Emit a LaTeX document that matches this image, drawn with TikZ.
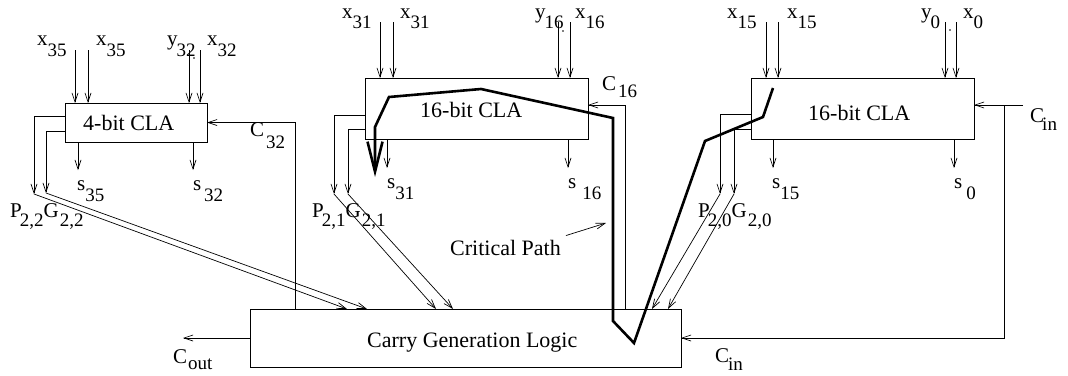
\documentclass[tikz,border=0pt]{standalone}
\usepackage{fontspec}
\setmainfont{Liberation Serif}
\usetikzlibrary{arrows.meta}
\newcommand\sbx[4]{#1\kern#2pt\raisebox{-#3pt}{\fontsize{19}{19}\selectfont #4}}
\tikzset{
  box/.style={draw, line width=0.8pt, inner sep=0pt, outer sep=0pt},
  lab/.style={inner sep=0pt, anchor=base west, font=\fontsize{21}{21}\selectfont},
  big/.style={inner sep=0pt, anchor=base west, font=\fontsize{22}{22}\selectfont},
  wire/.style={line width=0.7pt},
  arr/.style={wire, -{Straight Barb[length=9pt,width=6pt]}},
  crit/.style={line width=2.6pt, line join=miter, -{Straight Barb[length=30pt,width=15pt]}}
}
\begin{document}
\begin{tikzpicture}[x=1pt,y=-1pt]
\useasboundingbox (0,0) rectangle (1068,375);
% boxes
\node[box, minimum width=142pt, minimum height=39pt] (cla4) at (136,122.5) {};
\node[box, minimum width=223pt, minimum height=61pt] (claA) at (476.5,108.5) {};
\node[box, minimum width=223pt, minimum height=61pt] (claB) at (862.5,108.5) {};
\node[box, minimum width=431pt, minimum height=58pt] (cgl) at (465.5,338) {};
\node[big] (t4) at (83,130) {4-bit CLA};
\node[big] (tA) at (420,117) {16-bit CLA};
\node[big] (tB) at (808,120) {16-bit CLA};
\node[big] (tC) at (367,347) {Carry Generation Logic};
% inputs
\foreach \x [count=\i] in {75,88,189,200} {\coordinate (ia\i) at (\x,50); \draw[arr] (ia\i) -- (ia\i |- cla4.north);}
\foreach \x [count=\i] in {380,393,558,570} {\coordinate (ib\i) at (\x,22); \draw[arr] (ib\i) -- (ib\i |- claA.north);}
\foreach \x [count=\i] in {766,778,945,956} {\coordinate (ic\i) at (\x,22); \draw[arr] (ic\i) -- (ic\i |- claB.north);}
% outputs
\foreach \x [count=\i] in {78,193} {\coordinate (oa\i) at (\x,170); \draw[arr] (oa\i |- cla4.south) -- (oa\i);}
\foreach \x [count=\i] in {387,568} {\coordinate (ob\i) at (\x,168); \draw[arr] (ob\i |- claA.south) -- (ob\i);}
\foreach \x [count=\i] in {773,954} {\coordinate (oc\i) at (\x,168); \draw[arr] (oc\i |- claB.south) -- (oc\i);}
% P/G signals
\coordinate (p22) at (34,194); \coordinate (g22) at (46,193);
\draw[arr] (cla4.west |- 0,116) -| (p22);
\draw[arr] (cla4.west |- 0,131) -| (g22);
\draw[arr] (p22) -- (347,0 |- cgl.north);
\draw[arr] (g22) -- (367,0 |- cgl.north);
\coordinate (p21) at (334,194); \coordinate (g21) at (348,194);
\draw[arr] (claA.west |- 0,115) -| (p21);
\draw[arr] (claA.west |- 0,129) -| (g21);
\draw[arr] (p21) -- (436,0 |- cgl.north);
\draw[arr] (g21) -- (453,0 |- cgl.north);
\coordinate (p20) at (720,194); \coordinate (g20) at (734,194);
\draw[arr] (claB.west |- 0,114) -| (p20);
\draw[arr] (claB.west |- 0,129) -| (g20);
\draw[arr] (p20) -- (652,0 |- cgl.north);
\draw[arr] (g20) -- (668,0 |- cgl.north);
% carries
\draw[arr] (295,0 |- cgl.north) |- (cla4.east);
\draw[arr] (625,0 |- cgl.north) |- (claA.east |- 0,105);
\coordinate (cin) at (1023,105);
\draw[arr] (cin) -- (claB.east |- cin);
\coordinate (cinb) at (1004,105);
\draw[arr] (cinb) |- (cgl.east);
\coordinate (cout) at (183,338);
\draw[arr] (cgl.west) -- (cout);
% critical path
\draw[crit] (773,88) -- (763,117) -- (705,141) -- (634,343) -- (613,321) -- (613,118) -- (481,89) -- (389,97) -- (375,127) -- (375,177);
\node[big] (cp) at (450,255) {Critical Path};
\coordinate (cpt) at (606,223);
\draw[arr] ([shift={(5,-4)}]cp.north east) -- (cpt);
% stray dots
\fill (194,58) circle (0.8); \fill (563,31) circle (0.8); \fill (950,30) circle (0.8);
% top labels
\node[lab] (l1) at (37,45) {\sbx{x}{0}{11}{35}};
\node[lab] (l2) at (96,45) {\sbx{x}{0}{11}{35}};
\node[lab] (l3) at (167,45) {\sbx{y}{-1}{11}{32}};
\node[lab] (l4) at (207,45) {\sbx{x}{0}{11}{32}};
\node[lab] (l5) at (342,18) {\sbx{x}{0}{10}{31}};
\node[lab] (l6) at (400,18) {\sbx{x}{0}{10}{31}};
\node[lab] (l7) at (535,18) {\sbx{y}{-1}{10}{16}};
\node[lab] (l8) at (575,18) {\sbx{x}{0}{10}{16}};
\node[lab] (l9) at (727,18) {\sbx{x}{0}{10}{15}};
\node[lab] (l10) at (787,18) {\sbx{x}{0}{10}{15}};
\node[lab] (l11) at (921,18) {\sbx{y}{-1}{10}{0}};
\node[lab] (l12) at (963,18) {\sbx{x}{0}{10}{0}};
% sum labels
\node[lab] (s1) at (77,190) {\sbx{s}{0}{11}{35}};
\node[lab] (s2) at (193,190) {\sbx{s}{2.8}{11}{32}};
\node[lab] (s3) at (387,188) {\sbx{s}{0}{11}{31}};
\node[lab] (s4) at (568,188) {\sbx{s}{6}{11}{16}};
\node[lab] (s5) at (772,188) {\sbx{s}{0}{11}{15}};
\node[lab] (s6) at (954,188) {\sbx{s}{4}{11}{0}};
% P/G labels
\node[lab] (pg1) at (10,217) {\sbx{P}{-2}{9}{2,2}\sbx{G}{1}{9}{2,2}};
\node[lab] (pg2) at (312,217) {\sbx{P}{-2}{9}{2,1}\sbx{G}{1}{9}{2,1}};
\node[lab] (pg3) at (698,217) {\sbx{P}{-2}{9}{2,0}\sbx{G}{1}{9}{2,0}};
% carry labels
\node[lab] (lc32) at (250,136) {\sbx{C}{2}{12}{32}};
\node[lab] (lc16) at (602,90) {\sbx{C}{2}{7}{16}};
\node[lab] (lcin) at (1030,122) {\sbx{C}{-2}{8}{in}};
\node[lab] (lcinb) at (715,362) {\sbx{C}{-1}{8}{in}};
\node[lab] (lcout) at (173,363) {\sbx{C}{1}{6}{out}};
\end{tikzpicture}
\end{document}
